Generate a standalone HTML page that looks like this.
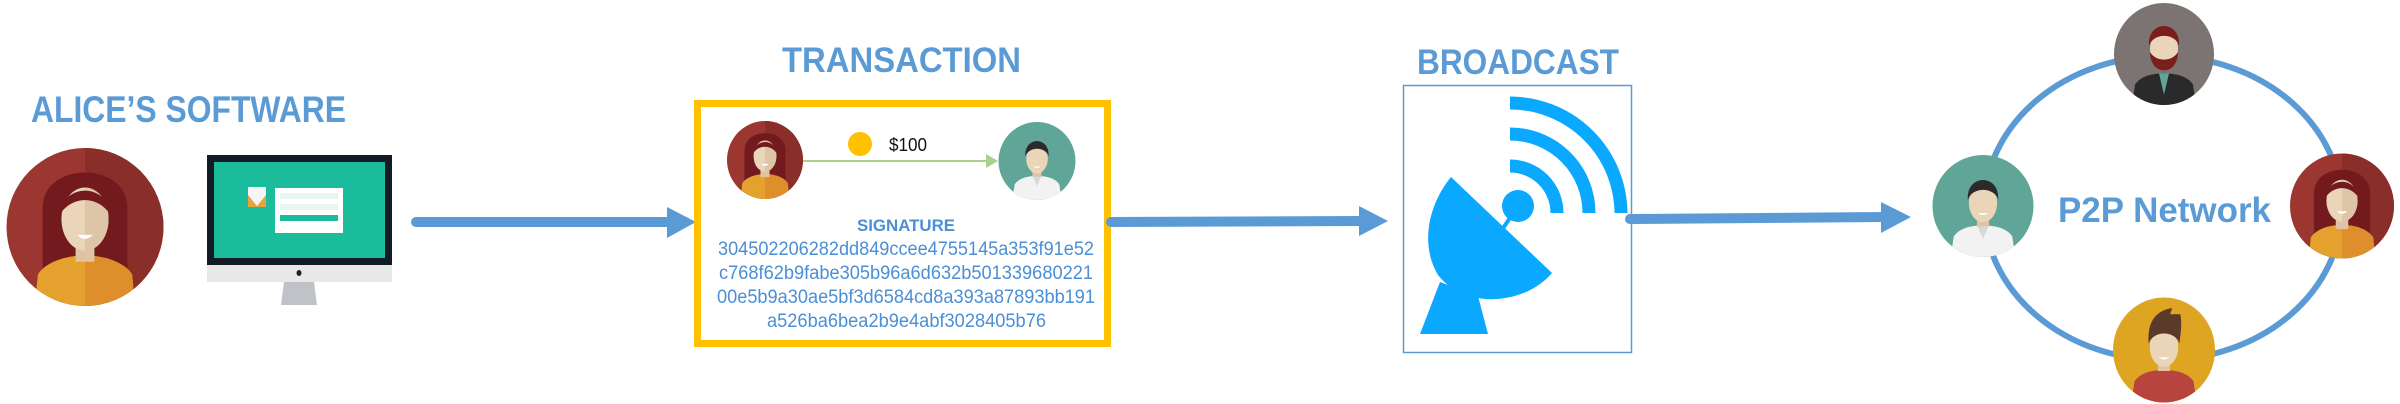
<!DOCTYPE html>
<html><head><meta charset="utf-8"><style>html,body{margin:0;padding:0;background:#fff}svg{display:block}</style></head>
<body>
<svg width="2400" height="404" viewBox="0 0 2400 404" xmlns="http://www.w3.org/2000/svg">
<defs>
<clipPath id="cc"><circle cx="0" cy="0" r="50"/></clipPath>
<g id="alice"><g clip-path="url(#cc)">
<rect x="-50" y="-50" width="100" height="100" fill="#9B3630"/>
<rect x="0" y="-50" width="50" height="100" fill="#8A2E2A"/>
<path d="M-27,30 L-27,-12 C-27,-42 27,-42 27,-12 L27,30 Z" fill="#731A1F"/>
<path d="M-32,50 L-30,30 C-25,22 -12,18 0,18 C12,18 25,22 30,30 L32,50 Z" fill="#E5A12E"/>
<path d="M0,18 C12,18 25,22 30,30 L32,50 L0,50Z" fill="#DE8E2A"/>
<rect x="-6" y="8" width="12" height="14" fill="#E0C3A3"/>
<ellipse cx="0" cy="-5" rx="15" ry="20" fill="#EAD5B9"/>
<path d="M0,-25 A15,20 0 0 1 0,15Z" fill="#DFC5A8"/>
<path d="M-16,-8 C-14,-28 14,-28 16,-8 C8,-20 -8,-20 -16,-8Z" fill="#731A1F"/>
<path d="M-5,5 Q0,10 5,5Z" fill="#fff"/>
</g></g>
<g id="teal"><g clip-path="url(#cc)">
<rect x="-50" y="-50" width="100" height="100" fill="#5FA698"/>
<path d="M-32,50 L-29,30 C-24,22 -12,19 0,19 C12,19 24,22 29,30 L32,50Z" fill="#F2F2F2"/>
<path d="M-6,19 L0,32 L6,19Z" fill="#d8d8d8"/>
<rect x="-6" y="8" width="12" height="12" fill="#E0C3A3"/>
<ellipse cx="0" cy="-3" rx="14" ry="19" fill="#EAD5B9"/>
<path d="M-15,-6 C-17,-32 17,-32 15,-6 C12,-18 -10,-20 -15,-6Z" fill="#2B2B2B"/>
<path d="M-5,7 Q0,11 5,7Z" fill="#fff"/>
</g></g>
<g id="grey"><g clip-path="url(#cc)">
<rect x="-50" y="-50" width="100" height="100" fill="#7B7472"/>
<path d="M-32,50 L-29,30 C-24,22 -12,19 0,19 C12,19 24,22 29,30 L32,50Z" fill="#2A2A2A"/>
<path d="M-5,19 L0,40 L5,19Z" fill="#5FA698"/>
<ellipse cx="0" cy="-5" rx="14" ry="19" fill="#EAD5B9"/>
<path d="M-14,-2 C-14,22 14,22 14,-2 C8,8 -8,8 -14,-2Z" fill="#7A1E1E"/>
<path d="M-15,-8 C-17,-34 17,-34 15,-8 C12,-20 -10,-22 -15,-8Z" fill="#7A1E1E"/>
</g></g>
<g id="yellow"><g clip-path="url(#cc)">
<rect x="-50" y="-50" width="100" height="100" fill="#DDA521"/>
<path d="M-32,50 L-29,30 C-24,22 -12,19 0,19 C12,19 24,22 29,30 L32,50Z" fill="#B84440"/>
<rect x="-6" y="8" width="12" height="12" fill="#E0C3A3"/>
<ellipse cx="0" cy="-3" rx="14" ry="19" fill="#EAD5B9"/>
<path d="M-15,-6 C-17,-30 -5,-38 8,-40 L6,-34 L16,-34 C18,-24 16,-14 15,-6 C12,-18 -10,-20 -15,-6Z" fill="#5A3A28"/>
<path d="M-5,7 Q0,11 5,7Z" fill="#fff"/>
</g></g>
</defs>

<g font-family="'Liberation Sans Narrow','Liberation Sans',sans-serif" font-weight="bold" fill="#5B9BD5">
<text x="31" y="122" font-size="37" textLength="315" lengthAdjust="spacingAndGlyphs">ALICE’S SOFTWARE</text>
<text x="782" y="72" font-size="35" textLength="239" lengthAdjust="spacingAndGlyphs">TRANSACTION</text>
<text x="1417" y="74" font-size="35" textLength="202" lengthAdjust="spacingAndGlyphs">BROADCAST</text>
<text x="2058" y="222" font-size="35" textLength="213" lengthAdjust="spacingAndGlyphs">P2P Network</text>
</g>

<!-- Alice -->
<use href="#alice" transform="translate(85,227) scale(1.57,1.58)"/>

<!-- Monitor -->
<rect x="207" y="155" width="185" height="110" fill="#131B24"/>
<rect x="214" y="162" width="171" height="96" fill="#1ABC9C"/>
<rect x="207" y="265" width="185" height="17" fill="#E8E8E8"/>
<ellipse cx="299" cy="273" rx="2.5" ry="3" fill="#222"/>
<path d="M284,282 L314,282 L317,305 L281,305Z" fill="#BFC3C7"/>
<rect x="275" y="188" width="68" height="45" fill="#fff"/>
<rect x="280" y="193" width="58" height="6" fill="#e9f5f2"/>
<rect x="280" y="204" width="58" height="6" fill="#e9f5f2"/>
<rect x="280" y="215" width="58" height="6" fill="#1ABC9C"/>
<rect x="248" y="187" width="18" height="20" fill="#F5F5F5"/>
<path d="M248,195 L257,206 L266,195 L266,207 L248,207Z" fill="#E8A33A"/>

<!-- Arrow 1 -->
<line x1="416" y1="222" x2="670" y2="222" stroke="#5B9BD5" stroke-width="10" stroke-linecap="round"/>
<path d="M667,207 L696,222 L667,238Z" fill="#5B9BD5"/>

<!-- Transaction box -->
<rect x="697.5" y="103.5" width="410" height="240" fill="#fff" stroke="#FFC000" stroke-width="7"/>
<use href="#alice" transform="translate(765,160) scale(0.76,0.78)"/>
<use href="#teal" transform="translate(1037,161) scale(0.77,0.78)"/>
<line x1="803" y1="161" x2="990" y2="161" stroke="#A9D18E" stroke-width="2"/>
<path d="M986,154 L998,161 L986,168Z" fill="#A9D18E"/>
<ellipse cx="860" cy="144" rx="12" ry="12" fill="#FFC000"/>
<text x="889" y="151" font-family="'Liberation Sans Narrow','Liberation Sans',sans-serif" font-size="18" fill="#111" textLength="38" lengthAdjust="spacingAndGlyphs">$100</text>
<g font-family="'Liberation Sans Narrow','Liberation Sans',sans-serif" fill="#4A8FD6" font-size="19">
<text x="857" y="231" font-weight="bold" font-size="17" textLength="98" lengthAdjust="spacingAndGlyphs">SIGNATURE</text>
<text x="718" y="255" textLength="376" lengthAdjust="spacingAndGlyphs">304502206282dd849ccee4755145a353f91e52</text>
<text x="719" y="279" textLength="374" lengthAdjust="spacingAndGlyphs">c768f62b9fabe305b96a6d632b501339680221</text>
<text x="717" y="303" textLength="378" lengthAdjust="spacingAndGlyphs">00e5b9a30ae5bf3d6584cd8a393a87893bb191</text>
<text x="767" y="327" textLength="279" lengthAdjust="spacingAndGlyphs">a526ba6bea2b9e4abf3028405b76</text>
</g>

<!-- Arrow 2 -->
<line x1="1111" y1="222" x2="1362" y2="221" stroke="#5B9BD5" stroke-width="10" stroke-linecap="round"/>
<path d="M1359,206 L1388,221 L1359,236Z" fill="#5B9BD5"/>

<!-- Broadcast box -->
<rect x="1403.5" y="85.5" width="228" height="267" fill="#fff" stroke="#5B9BD5" stroke-width="1.5"/>
<g fill="none" stroke="#0AA8FF" stroke-width="13">
<path d="M1510,166 A47,47 0 0 1 1557,213"/>
<path d="M1510,134 A79,79 0 0 1 1589,213"/>
<path d="M1510,103 A111,111 0 0 1 1621,213"/>
</g>
<circle cx="1518" cy="206" r="16" fill="#0AA8FF"/>
<line x1="1512" y1="215" x2="1495" y2="240" stroke="#0AA8FF" stroke-width="4"/>
<path d="M1451,177 L1552,273 C1525,305 1465,310 1438,275 C1420,245 1428,205 1451,177Z" fill="#0AA8FF"/>
<path d="M1440,282 L1420,334 L1488,334 L1478,296Z" fill="#0AA8FF"/>

<!-- Arrow 3 -->
<line x1="1630" y1="219" x2="1884" y2="217" stroke="#5B9BD5" stroke-width="10" stroke-linecap="round"/>
<path d="M1881,202 L1911,217 L1881,233Z" fill="#5B9BD5"/>

<!-- P2P ring -->
<ellipse cx="2163" cy="208" rx="179" ry="152" fill="none" stroke="#5B9BD5" stroke-width="6"/>
<use href="#grey" transform="translate(2164,54) scale(1.0,1.02)"/>
<use href="#teal" transform="translate(1983,206) scale(1.01,1.02)"/>
<use href="#alice" transform="translate(2342,206) scale(1.04,1.05)"/>
<use href="#yellow" transform="translate(2164,350) scale(1.02,1.05)"/>
</svg>
</body></html>
